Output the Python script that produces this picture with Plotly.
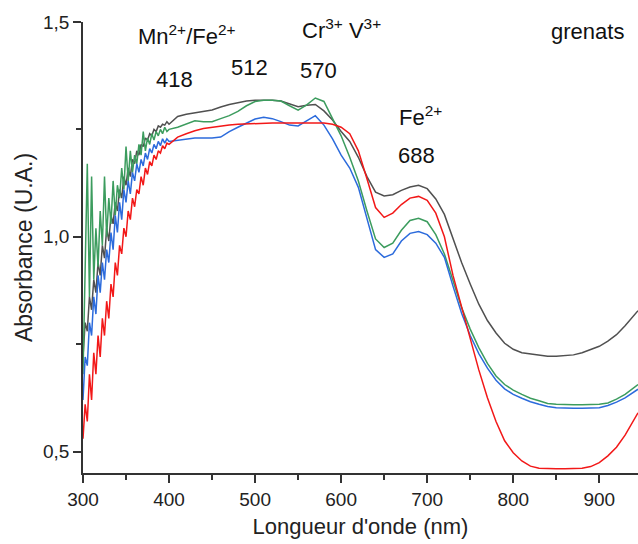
import plotly.graph_objects as go

# Wavelength grid (nm): dense in the noisy UV part, 10 nm steps afterwards
wl_uv = [300 + 2.5 * i for i in range(41)]
wl_vis = [410, 420, 430, 440, 450, 460, 470, 480, 490, 500, 510, 520, 530, 540, 550,
          560, 570, 580, 590, 600, 610, 620, 630, 640, 650, 660, 670, 680, 690, 700,
          710, 720, 730, 740, 750, 760, 770, 780, 790, 800, 810, 820, 830, 840, 850,
          860, 870, 880, 890, 900, 910, 920, 930, 940, 945]
wavelength = wl_uv + wl_vis

black_uv = [0.72, 0.80, 0.78, 0.86, 0.83, 0.90, 0.87, 0.94, 0.91, 0.98, 0.95, 1.02, 0.99, 1.05,
            1.03, 1.08, 1.06, 1.11, 1.09, 1.14, 1.12, 1.16, 1.14, 1.18, 1.17, 1.20, 1.19, 1.215,
            1.21, 1.23, 1.225, 1.24, 1.235, 1.25, 1.245, 1.258, 1.255, 1.262, 1.26, 1.268, 1.262]
black_vis = [1.28, 1.285, 1.288, 1.292, 1.295, 1.302, 1.308, 1.312, 1.316, 1.318, 1.318, 1.318,
             1.316, 1.31, 1.303, 1.306, 1.308, 1.293, 1.272, 1.245, 1.222, 1.185, 1.14, 1.104,
             1.095, 1.098, 1.108, 1.116, 1.12, 1.112, 1.088, 1.052, 0.995, 0.94, 0.89, 0.843,
             0.805, 0.776, 0.752, 0.738, 0.73, 0.727, 0.724, 0.722, 0.722, 0.723, 0.725, 0.73,
             0.738, 0.745, 0.757, 0.772, 0.793, 0.815, 0.828]

green_uv = [0.68, 0.95, 1.17, 0.86, 1.14, 0.90, 1.02, 0.93, 1.06, 0.98, 1.14, 1.00, 1.09, 1.03,
            1.13, 1.05, 1.12, 1.09, 1.16, 1.11, 1.21, 1.13, 1.20, 1.15, 1.19, 1.17, 1.215, 1.19,
            1.245, 1.20, 1.23, 1.215, 1.24, 1.225, 1.245, 1.235, 1.25, 1.24, 1.255, 1.245, 1.25]
green_vis = [1.255, 1.262, 1.27, 1.268, 1.268, 1.275, 1.282, 1.292, 1.305, 1.315, 1.318, 1.318,
             1.316, 1.305, 1.295, 1.307, 1.323, 1.315, 1.275, 1.235, 1.185, 1.13, 1.06, 0.995,
             0.975, 0.985, 1.015, 1.038, 1.043, 1.035, 1.005, 0.96, 0.898, 0.835, 0.785, 0.742,
             0.705, 0.676, 0.656, 0.643, 0.633, 0.624, 0.618, 0.612, 0.61, 0.609, 0.609, 0.609,
             0.609, 0.61, 0.613, 0.622, 0.633, 0.648, 0.656]

blue_uv = [0.62, 0.72, 0.70, 0.80, 0.77, 0.86, 0.82, 0.91, 0.87, 0.94, 0.90, 0.97, 0.94, 1.01,
           0.97, 1.05, 1.01, 1.08, 1.04, 1.11, 1.08, 1.13, 1.10, 1.15, 1.13, 1.17, 1.15, 1.18,
           1.165, 1.195, 1.18, 1.205, 1.195, 1.215, 1.205, 1.222, 1.212, 1.228, 1.218, 1.228, 1.222]
blue_vis = [1.225, 1.228, 1.23, 1.23, 1.23, 1.232, 1.245, 1.255, 1.265, 1.274, 1.278, 1.275,
            1.268, 1.26, 1.258, 1.27, 1.282, 1.26, 1.228, 1.19, 1.16, 1.115, 1.045, 0.97,
            0.952, 0.96, 0.99, 1.008, 1.012, 1.005, 0.985, 0.952, 0.885, 0.822, 0.77, 0.728,
            0.694, 0.666, 0.646, 0.633, 0.624, 0.616, 0.61, 0.605, 0.602, 0.601, 0.601, 0.601,
            0.601, 0.602, 0.607, 0.615, 0.625, 0.638, 0.645]

red_uv = [0.53, 0.61, 0.57, 0.68, 0.62, 0.73, 0.68, 0.77, 0.72, 0.81, 0.77, 0.85, 0.81, 0.89,
          0.86, 0.94, 0.91, 0.98, 0.96, 1.02, 1.00, 1.06, 1.04, 1.09, 1.07, 1.11, 1.10, 1.14,
          1.12, 1.16, 1.145, 1.175, 1.165, 1.19, 1.18, 1.20, 1.195, 1.212, 1.205, 1.218, 1.215]
red_vis = [1.232, 1.24, 1.247, 1.252, 1.255, 1.258, 1.26, 1.262, 1.263, 1.264, 1.265, 1.265,
           1.265, 1.265, 1.265, 1.266, 1.265, 1.265, 1.262, 1.255, 1.24, 1.2, 1.135, 1.068,
           1.045, 1.055, 1.075, 1.09, 1.094, 1.085, 1.055, 1.0, 0.91, 0.835, 0.765, 0.69,
           0.625, 0.57, 0.525, 0.497, 0.478, 0.466, 0.461, 0.46, 0.46, 0.46, 0.46, 0.461,
           0.465, 0.474, 0.49, 0.51, 0.538, 0.572, 0.59]

series = [
    ("black", black_uv + black_vis, "#505050"),
    ("green", green_uv + green_vis, "#3c9c5e"),
    ("blue", blue_uv + blue_vis, "#2c6bdc"),
    ("red", red_uv + red_vis, "#f21818"),
]

FONT = "Liberation Sans, Arial, sans-serif"

fig = go.Figure()
for name, vals, col in series:
    fig.add_trace(go.Scatter(x=wavelength, y=vals, mode="lines", name=name,
                             line=dict(color=col, width=1.5),
                             showlegend=False))

labels = [
    ("Mn<sup>2+</sup>/Fe<sup>2+</sup>", 420, 1.47),
    ("418", 406, 1.365),
    ("512", 493, 1.395),
    ("Cr<sup>3+</sup> V<sup>3+</sup>", 600, 1.483),
    ("570", 574, 1.388),
    ("Fe<sup>2+</sup>", 692, 1.281),
    ("688", 688, 1.19),
    ("grenats", 886, 1.479),
]
for txt, xv, yv in labels:
    fig.add_annotation(x=xv, y=yv, xref="x", yref="y", text=txt, showarrow=False,
                       font=dict(family=FONT, size=22, color="#111111"))

axis_common = dict(showline=True, linecolor="#333333", linewidth=1.5, ticks="outside",
                   ticklen=8, tickwidth=1.5, tickcolor="#333333", showgrid=False,
                   zeroline=False, mirror=False,
                   tickfont=dict(family=FONT, size=19, color="#222222"))

fig.update_layout(
    width=638, height=544,
    margin=dict(l=83, r=0, t=22, b=71),
    plot_bgcolor="white", paper_bgcolor="white",
    separators=", ",
    xaxis=dict(range=[300, 945], tick0=300, dtick=100,
               minor=dict(dtick=50, ticks="outside", ticklen=5, tickcolor="#333333"),
               title=dict(text="Longueur d'onde (nm)", standoff=10,
                          font=dict(family=FONT, size=22, color="#222222")),
               **axis_common),
    yaxis=dict(range=[0.45, 1.5], tick0=0.5, dtick=0.5, tickformat=".1f",
               minor=dict(dtick=0.25, ticks="outside", ticklen=5, tickcolor="#333333"),
               title=dict(text="Absorbance (U.A.)", standoff=4,
                          font=dict(family=FONT, size=23, color="#222222")),
               **axis_common),
)

fig.write_html("out.html")
